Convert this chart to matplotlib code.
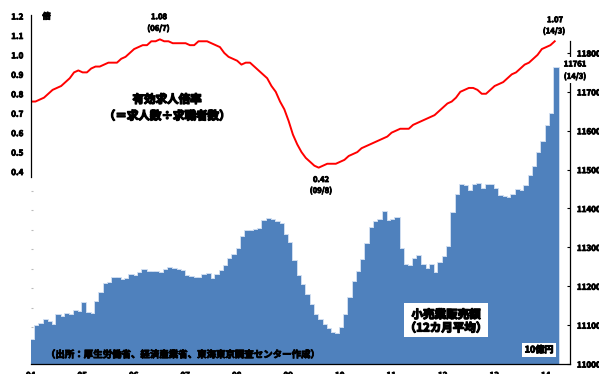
import matplotlib
matplotlib.use('Agg')
import matplotlib.pyplot as plt
import matplotlib.patheffects as pe
from matplotlib.patches import Rectangle
import numpy as np

plt.rcParams['font.family'] = ['Noto Sans CJK JP', 'DejaVu Sans']
plt.rcParams['font.weight'] = 'bold'

# ---------------- data ----------------
year_labels = ['04', '05', '06', '07', '08', '09', '10', '11', '12', '13', '14']

# 有効求人倍率 (monthly, 2004/1 - 2014/3)
ratio = [
    0.76, 0.76, 0.77, 0.78, 0.80, 0.82, 0.83, 0.84, 0.86, 0.88, 0.91, 0.92,
    0.91, 0.91, 0.93, 0.94, 0.94, 0.95, 0.96, 0.96, 0.96, 0.98, 0.99, 1.01,
    1.03, 1.04, 1.05, 1.05, 1.07, 1.07, 1.08, 1.07, 1.07, 1.06, 1.06, 1.06,
    1.06, 1.05, 1.05, 1.07, 1.07, 1.07, 1.06, 1.05, 1.04, 1.01, 0.99, 0.98,
    0.97, 0.95, 0.96, 0.96, 0.94, 0.92, 0.90, 0.88, 0.84, 0.81, 0.76, 0.72,
    0.66, 0.59, 0.54, 0.50, 0.47, 0.45, 0.43, 0.42, 0.43, 0.44, 0.44, 0.44,
    0.45, 0.46, 0.48, 0.49, 0.50, 0.52, 0.53, 0.54, 0.55, 0.56, 0.57, 0.58,
    0.60, 0.61, 0.62, 0.62, 0.62, 0.64, 0.65, 0.66, 0.67, 0.68, 0.69, 0.71,
    0.73, 0.75, 0.76, 0.78, 0.81, 0.82, 0.83, 0.83, 0.82, 0.80, 0.80, 0.82,
    0.84, 0.85, 0.86, 0.88, 0.90, 0.91, 0.93, 0.95, 0.96, 0.98, 1.00, 1.03,
    1.04, 1.05, 1.07,
]

# 小売業販売額 12カ月平均 (10億円)
sales = [
    11062, 11098, 11103, 11113, 11109, 11101, 11125, 11122, 11129, 11127, 11137, 11134,
    11156, 11130, 11128, 11159, 11182, 11207, 11209, 11221, 11220, 11216, 11219, 11230,
    11226, 11235, 11243, 11237, 11237, 11237, 11235, 11242, 11246, 11245, 11242, 11239,
    11227, 11225, 11220, 11220, 11228, 11231, 11218, 11228, 11239, 11252, 11271, 11280,
    11297, 11327, 11343, 11343, 11345, 11348, 11367, 11374, 11371, 11366, 11359, 11332,
    11311, 11266, 11227, 11203, 11177, 11152, 11126, 11113, 11100, 11090, 11080, 11076,
    11092, 11126, 11171, 11212, 11237, 11267, 11308, 11349, 11364, 11370, 11390, 11369,
    11370, 11375, 11295, 11255, 11252, 11269, 11278, 11255, 11244, 11255, 11233, 11259,
    11274, 11302, 11389, 11435, 11460, 11458, 11446, 11461, 11463, 11451, 11461, 11461,
    11449, 11432, 11430, 11427, 11435, 11447, 11445, 11458, 11483, 11507, 11543, 11570,
    11612, 11643, 11761,
]

ratio_ticks = [0.4, 0.5, 0.6, 0.7, 0.8, 0.9, 1.0, 1.1, 1.2]
sales_ticks = [11000, 11100, 11200, 11300, 11400, 11500, 11600, 11700, 11800]

# ---------------- figure ----------------
W, H = 599, 374
fig = plt.figure(figsize=(W / 100, H / 100), dpi=100)
fig.patch.set_facecolor('white')

L, R, B, T = 30.7, 570, 364, 14
ax = fig.add_axes([L / W, 1 - B / H, (R - L) / W, (B - T) / H])
ax2 = ax.twinx()

x = np.arange(len(sales))
px_per_month = 51.5 / 12
ax.set_xlim(0, (R - L) / px_per_month)

bar_col = '#4F81BD'
ax.bar(x, sales, width=1.0, align='edge', color=bar_col,
       edgecolor='#c9d9ee', linewidth=1.3, zorder=1)
ax.bar(x, sales, width=1.0, align='edge', color=bar_col,
       edgecolor='none', linewidth=0, zorder=2)
ax.set_ylim(11000, 11900.3)

ax2.plot(x + 0.1, ratio, color='#FF0000', lw=1.4, solid_joinstyle='round')
ax2.set_ylim(-0.590, 1.2103)

# right axis (sales)
ax.yaxis.tick_right()
ax.set_yticks(sales_ticks)
ax.set_yticklabels([str(v) for v in sales_ticks])
ax.tick_params(axis='y', direction='in', length=2, width=0.8, pad=5, labelsize=5.8)

# x axis
ax.set_xticks(np.arange(0, 121, 12))
ax.set_xticklabels(year_labels)
ax.tick_params(axis='x', direction='in', length=2, width=0.8, color='#999999',
               pad=5, labelsize=5.8)

# left axis (ratio)
ax2.yaxis.tick_left()
ax2.set_yticks(ratio_ticks)
ax2.set_yticklabels(['%.1f' % v for v in ratio_ticks])
ax2.tick_params(axis='y', which='major', length=0, pad=5.2, labelsize=5.8)
ax2.set_yticks(np.round(np.arange(-0.4, 0.31, 0.1), 1), minor=True)
ax2.tick_params(axis='y', which='minor', direction='in', length=1.5,
                width=0.8, color='#bbbbbb')

for s in ['top', 'left']:
    ax.spines[s].set_visible(False)
ax.spines['right'].set_bounds(11000, 11831)
ax.spines['right'].set_linewidth(0.9)
ax.spines['bottom'].set_linewidth(0.9)
for s in ['top', 'right', 'bottom']:
    ax2.spines[s].set_visible(False)
ax2.spines['left'].set_bounds(0.37, 1.205)
ax2.spines['left'].set_linewidth(0.9)

heavy = [pe.withStroke(linewidth=0.6, foreground='black')]
for lab in (ax.get_xticklabels() + ax.get_yticklabels() + ax2.get_yticklabels()):
    lab.set_path_effects(heavy)


def rect(x0, y0, x1, y1):
    fig.add_artist(Rectangle((x0 / W, 1 - y1 / H), (x1 - x0) / W, (y1 - y0) / H,
                             transform=fig.transFigure, facecolor='white',
                             edgecolor='none', zorder=2))


def ftext(xp, yp, s, size, ha='center', stroke=0.6):
    fig.text(xp / W, 1 - yp / H, s, ha=ha, va='center', fontsize=size,
             fontweight='bold', color='black', zorder=3,
             path_effects=[pe.withStroke(linewidth=stroke, foreground='black')])


ftext(46.5, 16.5, '倍', 6)
ftext(159, 16.7, '1.08', 5.5)
ftext(158.5, 28.3, '(06/7)', 5.5)
ftext(167, 99.5, '有効求人倍率', 8.3, stroke=0.9)
ftext(167, 116, '（＝求人数÷求職者数）', 8.3, stroke=0.9)
ftext(321, 179.5, '0.42', 5.5)
ftext(321, 190.5, '(09/8)', 5.5)
ftext(555, 19.7, '1.07', 5.5)
ftext(554, 31, '(14/3)', 5.5)

rect(563, 57, 589, 83)
ftext(575, 64, '11761', 5.5)
ftext(575, 76.3, '(14/3)', 5.5)

rect(404, 303.3, 488.3, 336.7)
ftext(446, 314.7, '小売業販売額', 8.3, stroke=0.9)
ftext(446, 328, '（12カ月平均）', 8.3, stroke=0.9)

rect(521.7, 343.3, 556, 356.7)
ftext(539, 350, '10億円', 6.5, stroke=0.7)

ftext(46, 354.5, '（出所：厚生労働省、経済産業省、東海東京調査センター作成）', 6.8,
      ha='left', stroke=0.6)

fig.savefig('out.png', dpi=100)
